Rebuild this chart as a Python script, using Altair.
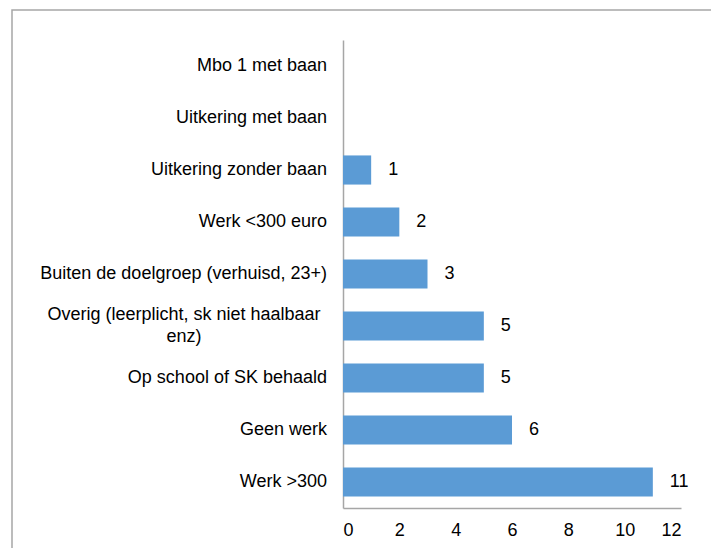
import altair as alt
import pandas as pd

categories = [
    "Mbo 1 met baan",
    "Uitkering met baan",
    "Uitkering zonder baan",
    "Werk <300 euro",
    "Buiten de doelgroep (verhuisd, 23+)",
    "Overig (leerplicht, sk niet haalbaar enz)",
    "Op school of SK behaald",
    "Geen werk",
    "Werk >300",
]
values = [0, 0, 1, 2, 3, 5, 5, 6, 11]
x_ticks = [0, 2, 4, 6, 8, 10, 12]
wrapped = {"Overig (leerplicht, sk niet haalbaar enz)": ["Overig (leerplicht, sk niet haalbaar", "enz)"]}

df = pd.DataFrame({"cat": categories, "val": values})
df["single"] = [c not in wrapped for c in categories]
df["lines"] = [wrapped.get(c, [c]) for c in categories]

FONT = "Liberation Sans"
FS = 18
BAR = "#5B9BD5"

y_enc = alt.Y("cat:N", sort=categories, title=None,
              scale=alt.Scale(paddingInner=0.44, paddingOuter=0.22),
              axis=alt.Axis(labels=False, ticks=False, domainColor="#a6a6a6",
                            domainWidth=1.5, grid=False))

x_scale = alt.Scale(domain=[0, 12], nice=False)

base = alt.Chart(df)

bars = base.mark_bar(color=BAR).encode(
    x=alt.X("val:Q", scale=x_scale, title=None,
            axis=alt.Axis(values=x_ticks, ticks=False, grid=False, domainColor="#a6a6a6",
                          domainWidth=1.5, labelFont=FONT, labelFontSize=FS,
                          labelColor="#000000", labelPadding=13)),
    y=y_enc,
)

vals = base.transform_filter("datum.val > 0").mark_text(
    align="left", baseline="middle", dx=17, font=FONT, fontSize=FS, color="#000000"
).encode(x=alt.X("val:Q", scale=x_scale), y=alt.Y("cat:N", sort=categories), text="val:Q")

cat_single = base.transform_filter("datum.single").mark_text(
    align="right", baseline="middle", font=FONT, fontSize=FS, color="#000000"
).encode(x=alt.value(-16), y=alt.Y("cat:N", sort=categories), text="cat:N")

cat_multi = base.transform_filter("!datum.single").mark_text(
    align="center", baseline="middle", font=FONT, fontSize=FS, color="#000000",
    lineHeight=22, dy=-11
).encode(x=alt.value(-159), y=alt.Y("cat:N", sort=categories), text="lines")

frame = alt.Chart(pd.DataFrame({"k": [0]})).mark_rect(
    fill=None, stroke="#a6a6a6", strokeWidth=1.5
).encode(x=alt.value(-331), x2=alt.value(377), y=alt.value(-30), y2=alt.value(530))

chart = alt.layer(frame, bars, vals, cat_single, cat_multi).properties(
    width=338, height=468,
    autosize=alt.AutoSizeParams(type="none"),
    padding={"left": 335, "top": 32, "right": 30, "bottom": 40},
).configure_view(stroke=None)

chart.save("out.html", embed_options={"renderer": "svg", "actions": False})
